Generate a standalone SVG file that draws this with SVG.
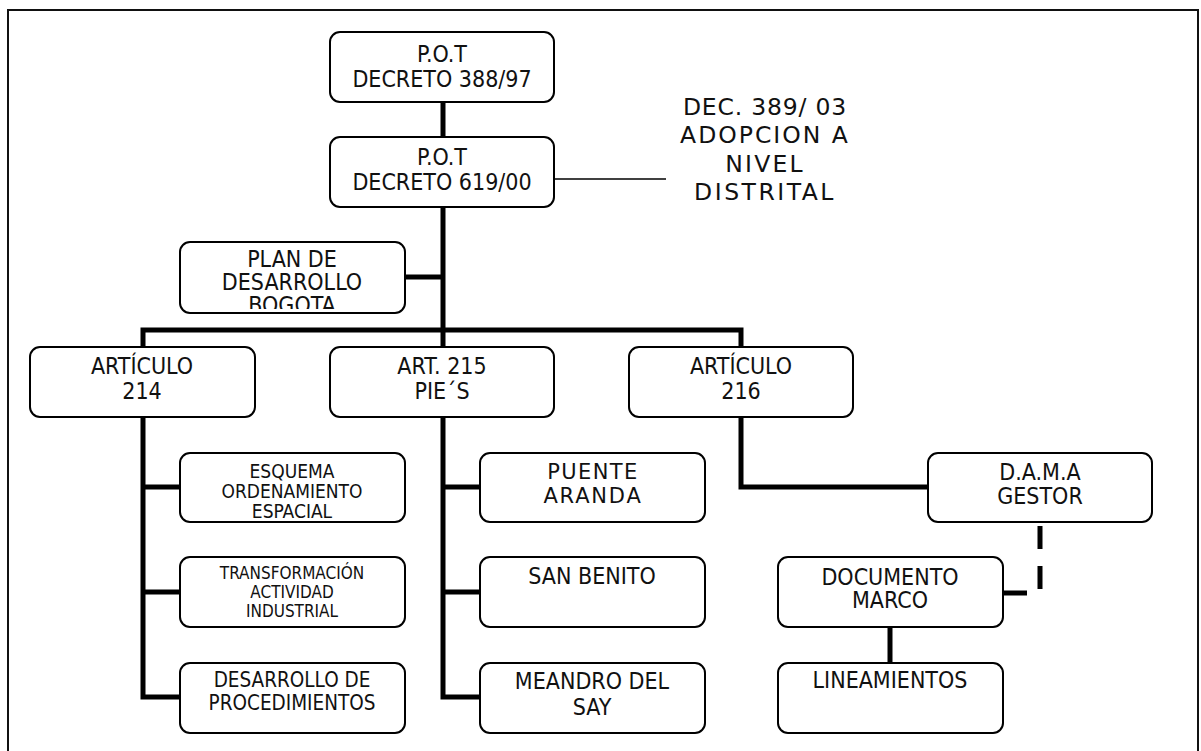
<svg xmlns="http://www.w3.org/2000/svg" width="1201" height="751" viewBox="0 0 1201 751">
  <style>
    .box { fill: #ffffff; stroke: #000000; stroke-width: 2; }
    .t { font-family: "DejaVu Sans Condensed", "DejaVu Sans", sans-serif; font-stretch: condensed; fill: #111111; text-anchor: middle; }
    .wide { font-family: "DejaVu Sans", sans-serif; fill: #111111; text-anchor: middle; }
    .link { fill: none; stroke: #000000; stroke-width: 5; stroke-linejoin: miter; stroke-linecap: butt; }
  </style>
  <defs>
    <clipPath id="clipPlan"><rect x="180" y="242" width="225" height="67"/></clipPath>
    <clipPath id="clipEsquema"><rect x="180" y="453" width="225" height="66"/></clipPath>
  </defs>

  <rect width="1201" height="751" fill="#ffffff"/>
  <!-- page frame -->
  <rect x="8" y="10" width="1190" height="760" fill="none" stroke="#111111" stroke-width="2"/>

  <!-- connectors -->
  <g id="connectors">
    <path class="link" d="M443,102 V137"/>
    <path class="link" d="M443,207 V347"/>
    <path class="link" d="M405,277 H443"/>
    <path class="link" d="M143,347 V330 H741 V347"/>
    <path class="link" d="M143,417 V697 H180 M143,487 H180 M143,592 H180"/>
    <path class="link" d="M443,417 V697 H480 M443,487 H480 M443,592 H480"/>
    <path class="link" d="M741,417 V487 H928"/>
    <path class="link" d="M890,627 V663"/>
    <path class="link" d="M1040,526 V593 H1003" stroke-dasharray="23 17"/>
    <path d="M554,179 H666" stroke="#000000" stroke-width="1.5" fill="none"/>
  </g>

  <g id="pot-388">
    <rect class="box" x="330" y="32" width="224" height="70" rx="10"/>
    <text class="t" font-size="23" x="442" y="62">P.O.T</text>
    <text class="t" font-size="23" x="442" y="87">DECRETO 388/97</text>
  </g>

  <g id="pot-619">
    <rect class="box" x="330" y="137" width="224" height="70" rx="10"/>
    <text class="t" font-size="23" x="442" y="165">P.O.T</text>
    <text class="t" font-size="23" x="442" y="190">DECRETO 619/00</text>
  </g>

  <g id="dec-389">
    <text class="wide" font-size="23.5" letter-spacing="0.8" x="765" y="115">DEC. 389/ 03</text>
    <text class="wide" font-size="23.5" letter-spacing="2" x="765" y="143">ADOPCION A</text>
    <text class="wide" font-size="23.5" letter-spacing="2.2" x="765" y="172">NIVEL</text>
    <text class="wide" font-size="23.5" letter-spacing="2.5" x="765" y="200">DISTRITAL</text>
  </g>

  <g id="plan-desarrollo">
    <rect class="box" x="180" y="242" width="225" height="71" rx="10"/>
    <g clip-path="url(#clipPlan)">
      <text class="t" font-size="23" x="292" y="267">PLAN DE</text>
      <text class="t" font-size="23" x="292" y="290">DESARROLLO</text>
      <text class="t" font-size="23" x="292" y="313">BOGOTA</text>
    </g>
  </g>

  <g id="art-214">
    <rect class="box" x="30" y="347" width="225" height="70" rx="10"/>
    <text class="t" font-size="23" x="142" y="374">ARTÍCULO</text>
    <text class="t" font-size="23" x="142" y="399">214</text>
  </g>

  <g id="art-215">
    <rect class="box" x="330" y="347" width="224" height="70" rx="10"/>
    <text class="t" font-size="23" x="442" y="374">ART. 215</text>
    <text class="t" font-size="23" x="442" y="399">PIE´S</text>
  </g>

  <g id="art-216">
    <rect class="box" x="629" y="347" width="224" height="70" rx="10"/>
    <text class="t" font-size="23" x="741" y="374">ARTÍCULO</text>
    <text class="t" font-size="23" x="741" y="399">216</text>
  </g>

  <g id="esquema">
    <rect class="box" x="180" y="453" width="225" height="69" rx="10"/>
    <g clip-path="url(#clipEsquema)">
      <text class="t" font-size="19" x="292" y="478">ESQUEMA</text>
      <text class="t" font-size="19" x="292" y="498">ORDENAMIENTO</text>
      <text class="t" font-size="19" x="292" y="518">ESPACIAL</text>
    </g>
  </g>

  <g id="transformacion">
    <rect class="box" x="180" y="557" width="225" height="70" rx="10"/>
    <text class="t" font-size="17" x="292" y="579">TRANSFORMACIÓN</text>
    <text class="t" font-size="17" x="292" y="598">ACTIVIDAD</text>
    <text class="t" font-size="17" x="292" y="617">INDUSTRIAL</text>
  </g>

  <g id="procedimientos">
    <rect class="box" x="180" y="663" width="225" height="70" rx="10"/>
    <text class="t" font-size="20.5" x="292" y="687">DESARROLLO DE</text>
    <text class="t" font-size="20.5" x="292" y="710">PROCEDIMIENTOS</text>
  </g>

  <g id="puente-aranda">
    <rect class="box" x="480" y="453" width="225" height="69" rx="10"/>
    <text class="wide" font-size="21" letter-spacing="1.4" x="593" y="479">PUENTE</text>
    <text class="wide" font-size="21" letter-spacing="1.8" x="593" y="503">ARANDA</text>
  </g>

  <g id="san-benito">
    <rect class="box" x="480" y="557" width="225" height="70" rx="10"/>
    <text class="t" font-size="23" x="592" y="584">SAN BENITO</text>
  </g>

  <g id="meandro">
    <rect class="box" x="480" y="663" width="225" height="70" rx="10"/>
    <text class="t" font-size="23" x="592" y="689">MEANDRO DEL</text>
    <text class="t" font-size="23" x="592" y="715">SAY</text>
  </g>

  <g id="dama">
    <rect class="box" x="928" y="453" width="224" height="69" rx="10"/>
    <text class="t" font-size="23" x="1040" y="480">D.A.M.A</text>
    <text class="t" font-size="23" x="1040" y="504">GESTOR</text>
  </g>

  <g id="documento-marco">
    <rect class="box" x="778" y="557" width="225" height="70" rx="10"/>
    <text class="t" font-size="23" x="890" y="585">DOCUMENTO</text>
    <text class="t" font-size="23" x="890" y="608">MARCO</text>
  </g>

  <g id="lineamientos">
    <rect class="box" x="778" y="663" width="225" height="70" rx="10"/>
    <text class="t" font-size="23" x="890" y="688">LINEAMIENTOS</text>
  </g>
</svg>
